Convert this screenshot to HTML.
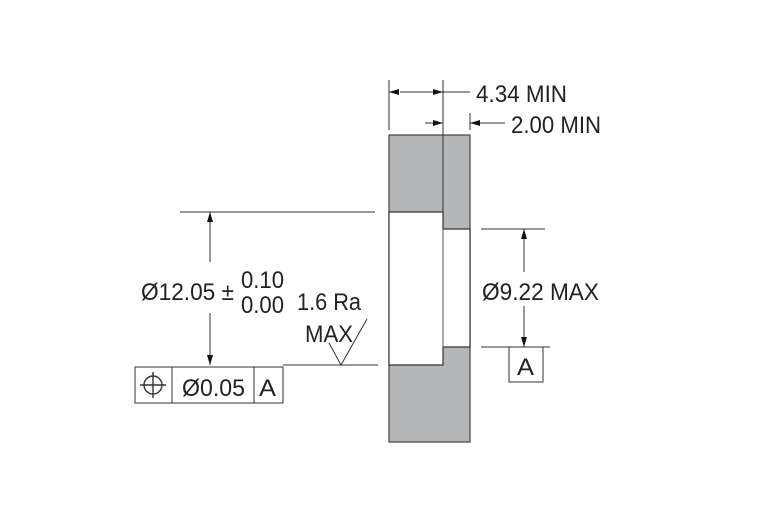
<!DOCTYPE html>
<html><head><style>html,body{margin:0;padding:0;background:#fff}svg{display:block}</style></head>
<body>
<svg width="780" height="520" viewBox="0 0 780 520" xmlns="http://www.w3.org/2000/svg" font-family="Liberation Sans, sans-serif" font-size="24" fill="#222">
<defs>
<marker id="a" viewBox="0 0 10 6" refX="10" refY="3" markerWidth="10" markerHeight="6" orient="auto" markerUnits="userSpaceOnUse"><path d="M0,0L10,3L0,6z" fill="#111"/></marker>
</defs>
<rect x="389" y="135" width="81" height="307" fill="#b5b6b8" stroke="#444" stroke-width="1.2"/>
<path d="M389,212H443V229H470V347H443V365H389Z" fill="#fff" stroke="#333" stroke-width="1.2"/>
<line x1="443" y1="229" x2="443" y2="347" stroke="#555" stroke-width="1"/>
<g stroke="#333" stroke-width="1" fill="none">
<line x1="389" y1="80" x2="389" y2="130"/>
<line x1="443" y1="80" x2="443" y2="212"/>
<line x1="470" y1="113" x2="470" y2="130"/>
<line x1="391" y1="92" x2="389" y2="92" marker-end="url(#a)"/>
<line x1="400" y1="92" x2="443" y2="92" marker-end="url(#a)"/>
<line x1="443" y1="92" x2="470" y2="92"/>
<line x1="425" y1="123" x2="443" y2="123" marker-end="url(#a)"/>
<line x1="505" y1="123" x2="470" y2="123" marker-end="url(#a)"/>
<line x1="180" y1="212" x2="375" y2="212"/>
<line x1="283" y1="365" x2="378" y2="365"/>
<line x1="210" y1="262" x2="210" y2="212" marker-end="url(#a)"/>
<line x1="210" y1="313" x2="210" y2="365" marker-end="url(#a)"/>
<polyline points="329,343 341,365 367,319"/>
<rect x="135" y="367" width="148" height="36"/>
<line x1="172" y1="367" x2="172" y2="403"/>
<line x1="254" y1="367" x2="254" y2="403"/>
<circle cx="153" cy="385" r="9" stroke-width="1.4"/>
<line x1="140" y1="385" x2="166" y2="385" stroke-width="1.4"/>
<line x1="153" y1="372" x2="153" y2="398" stroke-width="1.4"/>
<line x1="481" y1="229" x2="545" y2="229"/>
<line x1="481" y1="347" x2="550" y2="347"/>
<line x1="524" y1="272" x2="524" y2="229" marker-end="url(#a)"/>
<line x1="524" y1="306" x2="524" y2="347" marker-end="url(#a)"/>
<rect x="509" y="347" width="34" height="35"/>
</g>
<text x="476" y="102" textLength="91" lengthAdjust="spacingAndGlyphs">4.34 MIN</text>
<text x="511" y="133" textLength="90" lengthAdjust="spacingAndGlyphs">2.00 MIN</text>
<text x="141" y="300" textLength="93" lengthAdjust="spacingAndGlyphs">Ø12.05 ±</text>
<text x="241" y="288" textLength="43" lengthAdjust="spacingAndGlyphs">0.10</text>
<text x="241" y="313" textLength="43" lengthAdjust="spacingAndGlyphs">0.00</text>
<text x="297" y="310" textLength="64" lengthAdjust="spacingAndGlyphs">1.6 Ra</text>
<text x="305" y="342" textLength="48" lengthAdjust="spacingAndGlyphs">MAX</text>
<text x="182" y="396" textLength="63" lengthAdjust="spacingAndGlyphs">Ø0.05</text>
<text x="259" y="396" textLength="17" lengthAdjust="spacingAndGlyphs">A</text>
<text x="482" y="300" textLength="117" lengthAdjust="spacingAndGlyphs">Ø9.22 MAX</text>
<text x="517" y="375" textLength="17" lengthAdjust="spacingAndGlyphs">A</text>
</svg>
</body></html>
